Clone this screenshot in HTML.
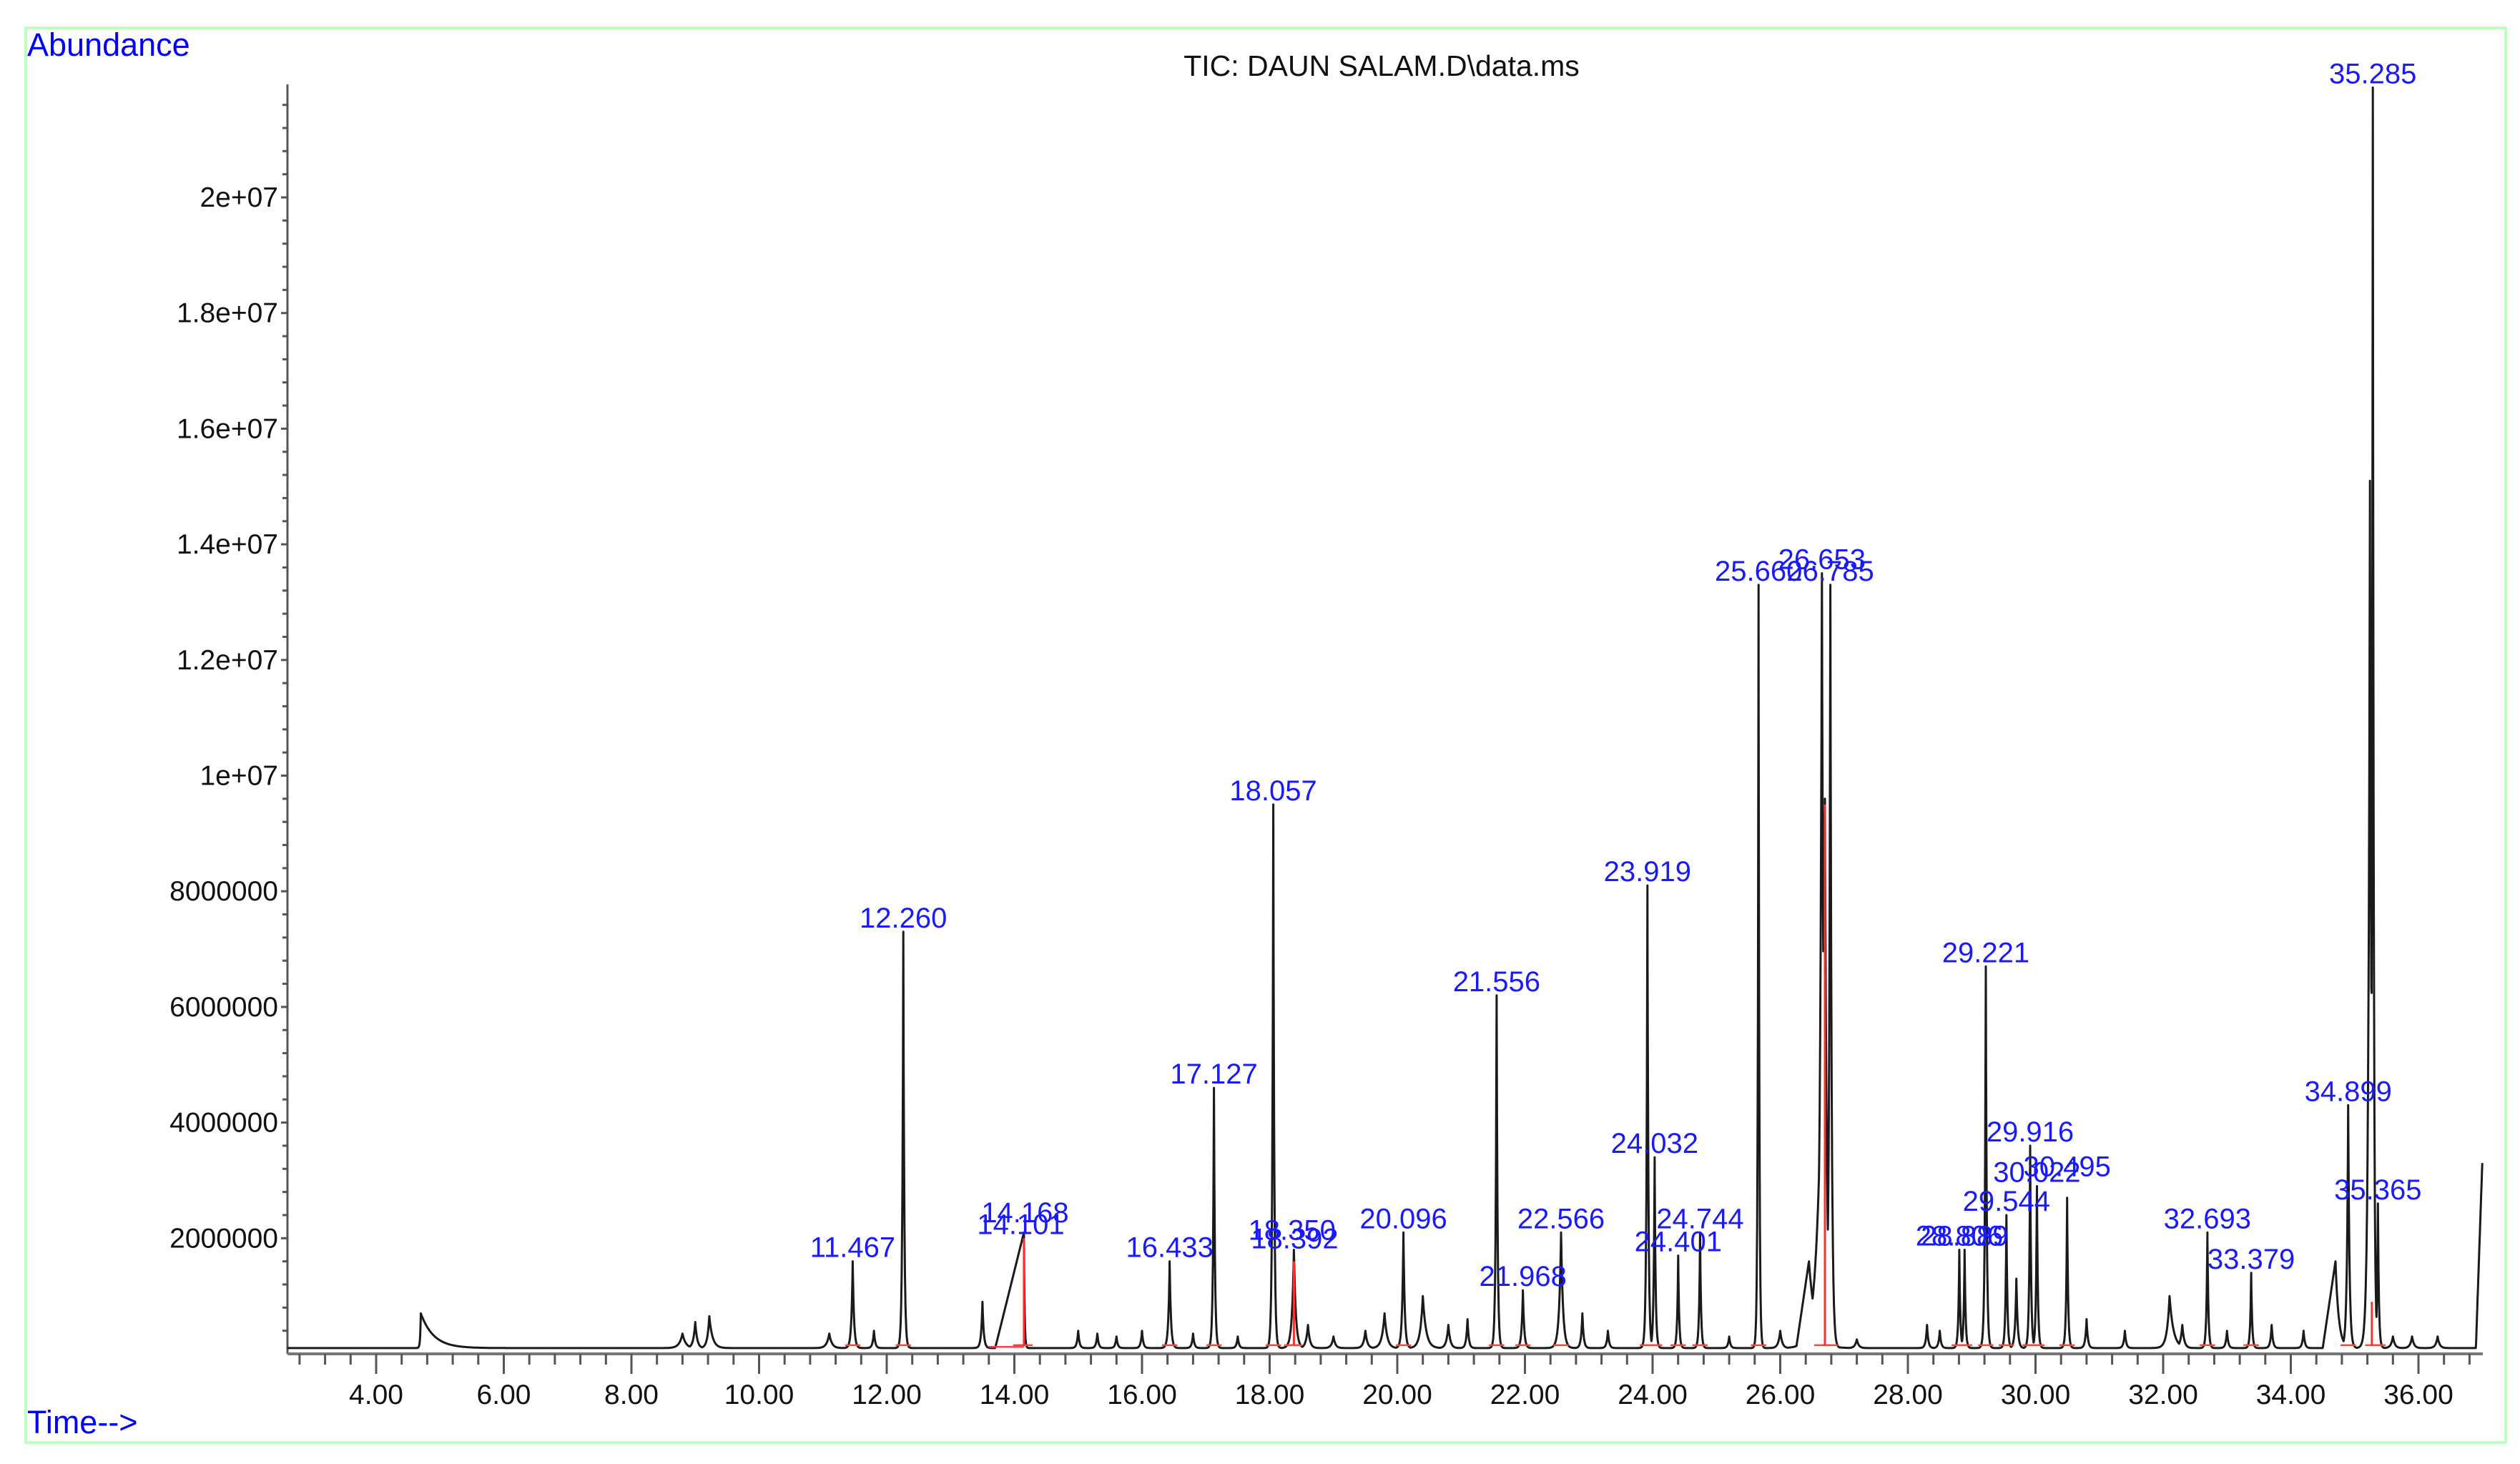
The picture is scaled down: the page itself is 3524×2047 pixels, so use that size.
<!DOCTYPE html>
<html><head><meta charset="utf-8"><style>
html,body{margin:0;padding:0;background:#fff;}
svg{display:block;}
text{font-family:"Liberation Sans",Arial,sans-serif;}
</style></head><body>
<svg id="chart" width="3524" height="2047" viewBox="0 0 3524 2047" xmlns="http://www.w3.org/2000/svg">
<rect x="36" y="39" width="3468" height="1978" fill="none" stroke="#bfffbf" stroke-width="4"/>
<text x="38" y="78" font-size="45" fill="#0000ff">Abundance</text>
<text x="38" y="2004" font-size="45" fill="#0000ff">Time--&gt;</text>
<text x="1932" y="106" font-size="41" text-anchor="middle" fill="#111">TIC: DAUN SALAM.D\data.ms</text>
<g id="axes"></g>
<g id="plot"></g>
<g id="labels"></g>
</svg>
<script>
// ---- data ----
const peakTimes   = [4.70,8.80,9.00,9.22,11.10,11.467,11.80,12.260,13.50,14.150,15.00,15.30,15.60,16.00,16.433,16.80,17.127,17.50,18.057,18.380,18.60,19.00,19.50,19.80,20.096,20.40,20.80,21.10,21.556,21.968,22.566,22.90,23.30,23.919,24.032,24.401,24.744,25.20,25.660,26.00,26.450,26.700,26.653,26.785,27.20,28.30,28.50,28.806,28.889,29.221,29.544,29.70,29.916,30.022,30.495,30.80,31.40,32.10,32.30,32.693,33.00,33.379,33.70,34.20,34.700,34.899,35.240,35.285,35.365,35.60,35.90,36.30,37.00];
const peakHeights = [0.60,0.25,0.45,0.55,0.25,1.50,0.30,7.20,0.80,2.00,0.30,0.25,0.20,0.30,1.50,0.25,4.50,0.20,9.40,1.70,0.40,0.20,0.30,0.60,2.00,0.90,0.40,0.50,6.10,1.00,2.00,0.60,0.30,8.00,3.30,1.60,2.00,0.20,13.20,0.30,1.50,9.50,13.40,13.20,0.15,0.40,0.30,1.70,1.70,6.60,2.30,1.20,3.50,2.80,2.60,0.50,0.30,0.90,0.40,2.00,0.30,1.30,0.40,0.30,1.50,4.20,15.00,21.80,2.50,0.20,0.20,0.20,3.20]; // x1e6
const peakWidthL  = [0.01,0.05,0.03,0.03,0.04,0.02,0.02,0.015,0.02,0.45,0.02,0.02,0.02,0.02,0.02,0.02,0.015,0.02,0.015,0.03,0.03,0.03,0.03,0.04,0.02,0.04,0.03,0.02,0.015,0.02,0.03,0.02,0.02,0.015,0.015,0.015,0.015,0.02,0.012,0.03,0.20,0.08,0.03,0.02,0.03,0.02,0.02,0.015,0.015,0.015,0.015,0.02,0.015,0.015,0.015,0.02,0.02,0.04,0.03,0.015,0.02,0.015,0.02,0.02,0.20,0.02,0.025,0.015,0.015,0.03,0.03,0.03,0.10];
const peakWidthR  = [0.20,0.05,0.03,0.05,0.04,0.02,0.02,0.015,0.02,0.01,0.02,0.02,0.02,0.02,0.02,0.02,0.015,0.02,0.015,0.03,0.03,0.03,0.03,0.04,0.02,0.05,0.03,0.02,0.015,0.02,0.03,0.02,0.02,0.015,0.015,0.015,0.015,0.02,0.012,0.03,0.10,0.03,0.03,0.02,0.03,0.02,0.02,0.015,0.015,0.015,0.015,0.02,0.015,0.015,0.015,0.02,0.02,0.06,0.03,0.015,0.02,0.015,0.02,0.02,0.05,0.02,0.025,0.015,0.015,0.03,0.03,0.03,0.01];
const labelTexts  = ["11.467","12.260","14.168","14.101","16.433","17.127","18.057","18.350","18.392","20.096","21.556","21.968","22.566","23.919","24.032","24.401","24.744","25.660","26.653","26.785","28.806","28.889","29.221","29.544","29.916","30.022","30.495","32.693","33.379","34.899","35.285","35.365"];
const labelTimes  = [11.467,12.260,14.168,14.101,16.433,17.127,18.057,18.350,18.392,20.096,21.556,21.968,22.566,23.919,24.032,24.401,24.744,25.660,26.653,26.785,28.806,28.889,29.221,29.544,29.916,30.022,30.495,32.693,33.379,34.899,35.285,35.365];
const labelValues = [1.50,7.20,2.10,1.90,1.50,4.50,9.40,1.80,1.65,2.00,6.10,1.00,2.00,8.00,3.30,1.60,2.00,13.20,13.40,13.20,1.70,1.70,6.60,2.30,3.50,2.80,2.90,2.00,1.30,4.20,21.80,2.50];
const xTickLabels = ["4.00","6.00","8.00","10.00","12.00","14.00","16.00","18.00","20.00","22.00","24.00","26.00","28.00","30.00","32.00","34.00","36.00"];
const yTickLabels = ["2000000","4000000","6000000","8000000","1e+07","1.2e+07","1.4e+07","1.6e+07","1.8e+07","2e+07"];
const redDrops    = [14.150,18.380,26.700,35.270];
const redHeights  = [2.0,1.6,9.5,0.9];

// ---- scales ----
const X0=402, X1=3472, Y0=1893, YTOP=118;
const xs = t => 526 + (t-4)*89.25;
const ys = v => Y0 - v*1e6/2e6*161.7;
const NS="http://www.w3.org/2000/svg";
function mk(tag, attrs, parent){const e=document.createElementNS(NS,tag);for(const k in attrs)e.setAttribute(k,attrs[k]);parent.appendChild(e);return e;}
const axes=document.getElementById('axes'), plot=document.getElementById('plot'), labels=document.getElementById('labels');

// axes
const ya=mk('line',{x1:X0,y1:YTOP,x2:X0,y2:Y0,stroke:'#555','stroke-width':3},axes);


const xa=mk('line',{x1:X0,y1:Y0,x2:X1,y2:Y0,stroke:'#777','stroke-width':4},axes);


for(let v=0.4; ys(v)>=YTOP; v+=0.4){
  const major = Math.abs(v/2-Math.round(v/2))<1e-6;
  const tk=mk('line',{x1:X0-(major?9:7),y1:ys(v),x2:X0,y2:ys(v),stroke:'#555','stroke-width':3},axes);
  
  
}
yTickLabels.forEach((s,i)=>{
  const t=mk('text',{x:389,y:ys((i+1)*2)+13,'font-size':39,'text-anchor':'end',fill:'#111'},axes);
  t.textContent=s;
  
  
});
for(let k=0;k<=86;k++){
  const t=2.8+k*0.4; if(xs(t)>X1) break;
  const major = Math.abs((t/2)-Math.round(t/2))<1e-6;
  const tk=mk('line',{x1:xs(t),y1:Y0,x2:xs(t),y2:Y0+(major?28:15),stroke:'#555','stroke-width':3},axes);
  
  
}
xTickLabels.forEach((s,i)=>{
  const t=mk('text',{x:xs(4+i*2),y:1963,'font-size':39,'text-anchor':'middle',fill:'#111'},axes);
  t.textContent=s;
  
  
});

// trace (max of peak contributions so stacked peaks keep their read heights)
function val(t){
  let v=0;
  for(let i=0;i<peakTimes.length;i++){
    const d=t-peakTimes[i]; let c;
    if(peakWidthL[i]>=0.1 && d<0){ c = d>-peakWidthL[i] ? Math.max(0,peakHeights[i]*(1+d/peakWidthL[i])) : 0; }
    else { const w=d<0?peakWidthL[i]:peakWidthR[i]; c=peakHeights[i]*Math.exp(-Math.abs(d)/w); }
    if(c>v) v=c;
  }
  return 0.1+v;
}
let ts=[];
for(let t=2.61;t<=37.0;t+=0.004) ts.push(t);
peakTimes.forEach(t=>ts.push(t));
ts.sort((a,b)=>a-b);
const pts=ts.map(t=>xs(t).toFixed(1)+','+ys(val(t)).toFixed(1));
const tr=mk('polyline',{points:pts.join(' '),fill:'none',stroke:'#1a1a1a','stroke-width':3,'stroke-linejoin':'round'},plot);



// red integration marks
labelTimes.forEach(t=>{
  const r=mk('line',{x1:xs(t-0.12),y1:ys(0.15),x2:xs(t+0.12),y2:ys(0.15),stroke:'#ff4040','stroke-width':2.5},plot);
  
  
});
redDrops.forEach((t,i)=>{
  const r=mk('line',{x1:xs(t),y1:ys(0.15),x2:xs(t),y2:ys(redHeights[i]),stroke:'#ff3030','stroke-width':3},plot);
  
  
});
const rb=mk('line',{x1:xs(13.6),y1:ys(0.12),x2:xs(14.15),y2:ys(0.12),stroke:'#ff4040','stroke-width':2.5},plot);



// peak labels
labelTexts.forEach((s,i)=>{
  const t=mk('text',{x:xs(labelTimes[i]),y:ys(labelValues[i])-14,'font-size':40,'text-anchor':'middle',fill:'#1a1aff'},labels);
  t.textContent=s;
  
  
});
</script>
</body></html>
